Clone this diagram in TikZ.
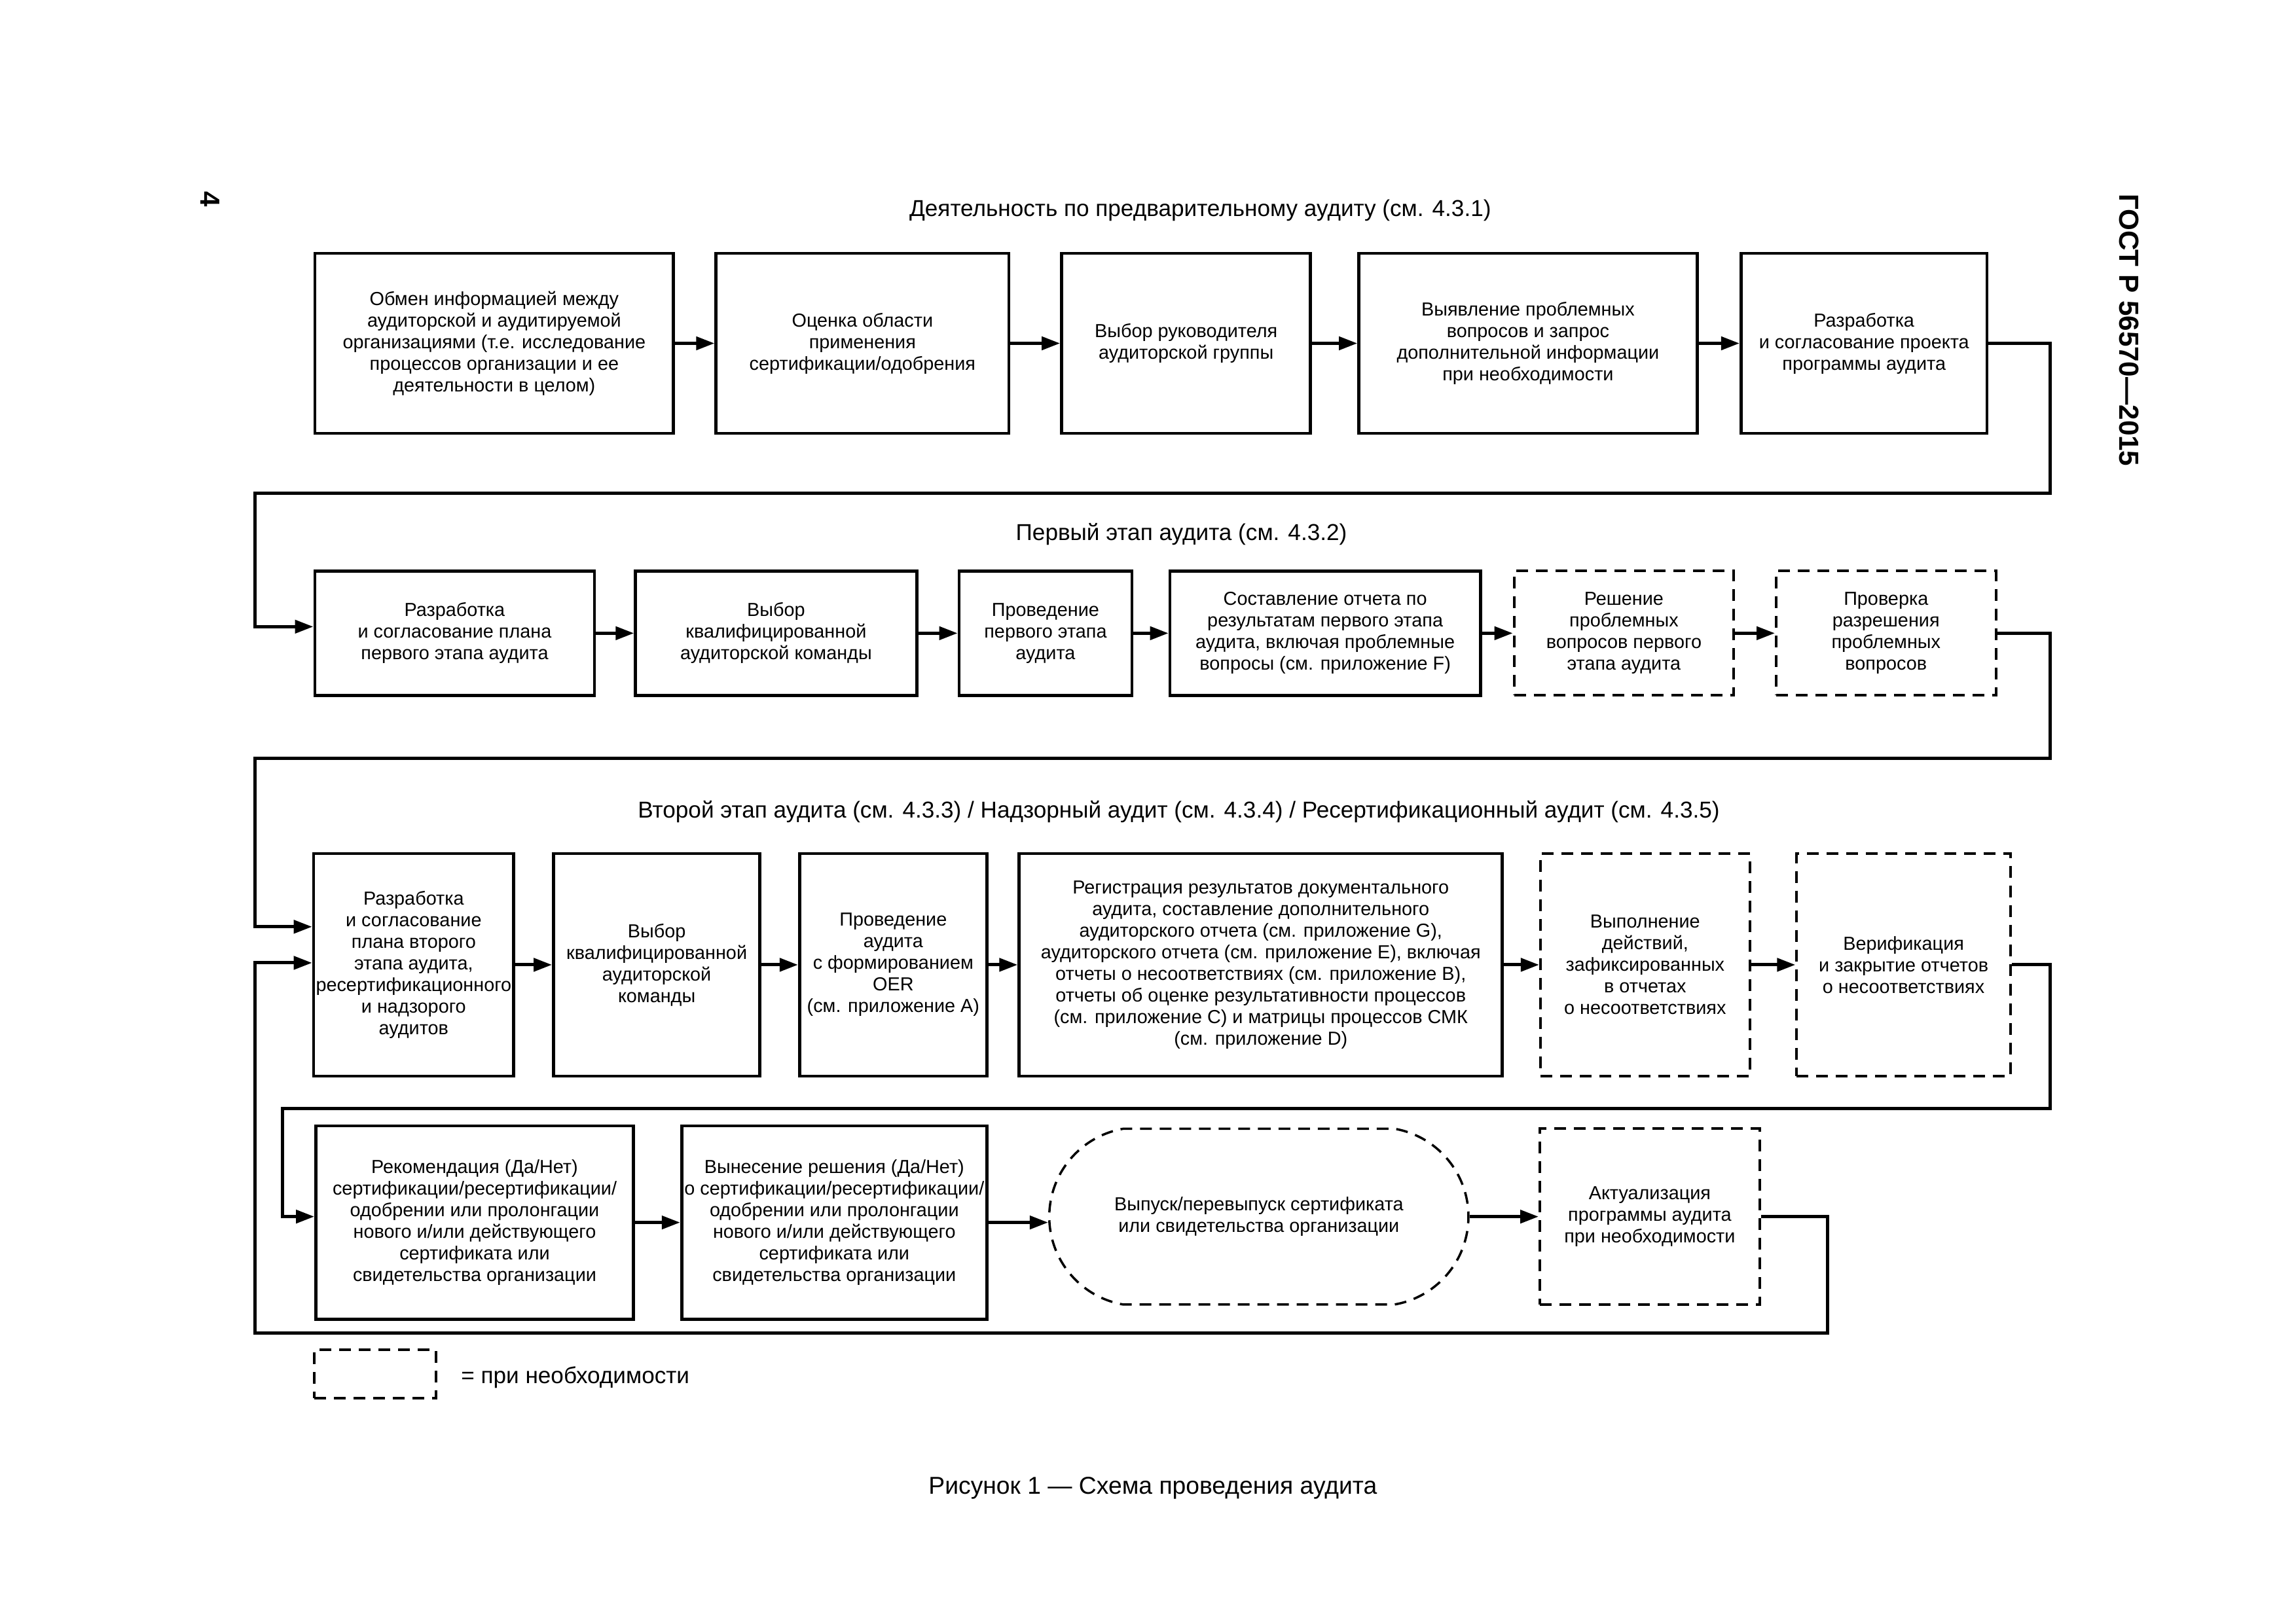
\documentclass[tikz,border=0pt]{standalone}
\usepackage{fontspec}
\setmainfont{Liberation Sans}
\usetikzlibrary{arrows.meta,shapes.misc}
\newcommand\mybox[7]{\node[#6,minimum width={(#4-#2)*0.022366cm},minimum height={(#5-#3)*0.022366cm}] (#1) at ({(#2+#4)/2},{(#3+#5)/2}) {#7};}
\begin{document}
\begin{tikzpicture}[x=0.022366cm,y=-0.022366cm,
  every node/.style={inner sep=1pt},
  bx/.style={draw,line width=1.35pt,align=center,font=\fontsize{8.2}{9.4}\selectfont},
  dbx/.style={bx,line width=1.15pt,dash pattern=on 0.18cm off 0.12cm},
  con/.style={line width=1.4pt,-{Triangle[length=0.28cm,width=0.2cm]}},
  ttl/.style={font=\fontsize{10}{12}\selectfont}]
\useasboundingbox (0,0) rectangle (1568,1109);

% page number and header
\node[rotate=-90,font=\bfseries\fontsize{12}{14}\selectfont] (pnum) at (143.3,136) {4};
\node[rotate=-90,font=\bfseries\fontsize{12}{14}\selectfont] (gost) at (1454,225.5) {ГОСТ Р 56570—2015};

% titles
\node[ttl] (t1) at (819.7,143.8) {Деятельность по предварительному аудиту (см. 4.3.1)};
\node[ttl] (t2) at (806.8,365) {Первый этап аудита (см. 4.3.2)};
\node[ttl] (t3) at (805,554.4) {Второй этап аудита (см. 4.3.3) / Надзорный аудит (см. 4.3.4) / Ресертификационный аудит (см. 4.3.5)};

% row 1
\mybox{A1}{215}{173}{460}{296}{bx}{Обмен информацией между\\аудиторской и аудитируемой\\организациями (т.е. исследование\\процессов организации и ее\\деятельности в целом)}
\mybox{A2}{489}{173}{689}{296}{bx}{Оценка области\\применения\\сертификации/одобрения}
\mybox{A3}{725}{173}{895}{296}{bx}{Выбор руководителя\\аудиторской группы}
\mybox{A4}{928}{173}{1159}{296}{bx}{Выявление проблемных\\вопросов и запрос\\дополнительной информации\\при необходимости}
\mybox{A5}{1189}{173}{1357}{296}{bx}{Разработка\\и согласование проекта\\программы аудита}

% row 2
\mybox{B1}{215}{390}{406}{475}{bx}{Разработка\\и согласование плана\\первого этапа аудита}
\mybox{B2}{434}{390}{626}{475}{bx}{Выбор\\квалифицированной\\аудиторской команды}
\mybox{B3}{655}{390}{773}{475}{bx}{Проведение\\первого этапа\\аудита}
\mybox{B4}{799}{390}{1011}{475}{bx}{Составление отчета по\\результатам первого этапа\\аудита, включая проблемные\\вопросы (см. приложение F)}
\mybox{B5}{1034}{390}{1184}{475}{dbx}{Решение\\проблемных\\вопросов первого\\этапа аудита}
\mybox{B6}{1213}{390}{1363}{475}{dbx}{Проверка\\разрешения\\проблемных\\вопросов}

% row 3
\mybox{C1}{215}{583}{350}{735}{bx}{Разработка\\и согласование\\плана второго\\этапа аудита,\\ресертификационного\\и надзорого\\аудитов}
\mybox{C2}{378}{583}{519}{735}{bx}{Выбор\\квалифицированной\\аудиторской\\команды}
\mybox{C3}{546}{583}{674}{735}{bx}{Проведение\\аудита\\с формированием\\OER\\(см. приложение A)}
\mybox{C4}{696}{583}{1026}{735}{bx}{Регистрация результатов документального\\аудита, составление дополнительного\\аудиторского отчета (см. приложение G),\\аудиторского отчета (см. приложение E), включая\\отчеты о несоответствиях (см. приложение B),\\отчеты об оценке результативности процессов\\(см. приложение C) и матрицы процессов СМК\\(см. приложение D)}
\mybox{C5}{1052}{583}{1195}{735}{dbx}{Выполнение\\действий,\\зафиксированных\\в отчетах\\о несоответствиях}
\mybox{C6}{1227}{583}{1373}{735}{dbx}{Верификация\\и закрытие отчетов\\о несоответствиях}

% row 4
\mybox{D1}{215.7}{769}{432.6}{901}{bx}{Рекомендация (Да/Нет)\\сертификации/ресертификации/\\одобрении или пролонгации\\нового и/или действующего\\сертификата или\\свидетельства организации}
\mybox{D2}{465.5}{769}{674}{901}{bx}{Вынесение решения (Да/Нет)\\о сертификации/ресертификации/\\одобрении или пролонгации\\нового и/или действующего\\сертификата или\\свидетельства организации}
\mybox{D3}{715}{771}{1004.4}{891}{dbx,line width=1pt,rounded rectangle,rounded rectangle arc length=160}{Выпуск/перевыпуск сертификата\\или свидетельства организации}
\mybox{D4}{1051.6}{771}{1201.7}{891}{dbx}{Актуализация\\программы аудита\\при необходимости}

% legend
\mybox{leg}{214.6}{922}{297.8}{955}{dbx}{}
\node[ttl,anchor=west] (legt) at (313,941) {= при необходимости};

% caption
\node[font=\fontsize{10.6}{12}\selectfont] (cap) at (787.3,1016.4) {Рисунок 1 — Схема проведения аудита};

% connectors row 1
\draw[con] (A1.east) -- (A2.west);
\draw[con] (A2.east) -- (A3.west);
\draw[con] (A3.east) -- (A4.west);
\draw[con] (A4.east) -- (A5.west);
\draw[con] (A5.east) -| (1400,337) -- (174,337) |- ([yshift=0.1cm]B1.west);
% row 2
\draw[con] (B1.east) -- (B2.west);
\draw[con] (B2.east) -- (B3.west);
\draw[con] (B3.east) -- (B4.west);
\draw[con] (B4.east) -- (B5.west);
\draw[con] (B5.east) -- (B6.west);
\draw[con] (B6.east) -| (1400,518) -- (174,518) |- ([yshift=0.5815cm]C1.west);
% row 3
\draw[con] (C1.east) -- (C2.west);
\draw[con] (C2.east) -- (C3.west);
\draw[con] (C3.east) -- (C4.west);
\draw[con] (C4.east) -- (C5.west);
\draw[con] (C5.east) -- (C6.west);
\draw[con] (C6.east) -| (1400,757) -- (193,757) |- ([yshift=0.09cm]D1.west);
% row 4
\draw[con] (D1.east) -- (D2.west);
\draw[con] (D2.east) -- (D2.east -| D3.west);
\draw[con] (D3.east) -- (D4.west);
\draw[con] (D4.east) -| (1248,910.6) -- (174,910.6) |- ([yshift=0.03cm]C1.west);
\end{tikzpicture}
\end{document}
